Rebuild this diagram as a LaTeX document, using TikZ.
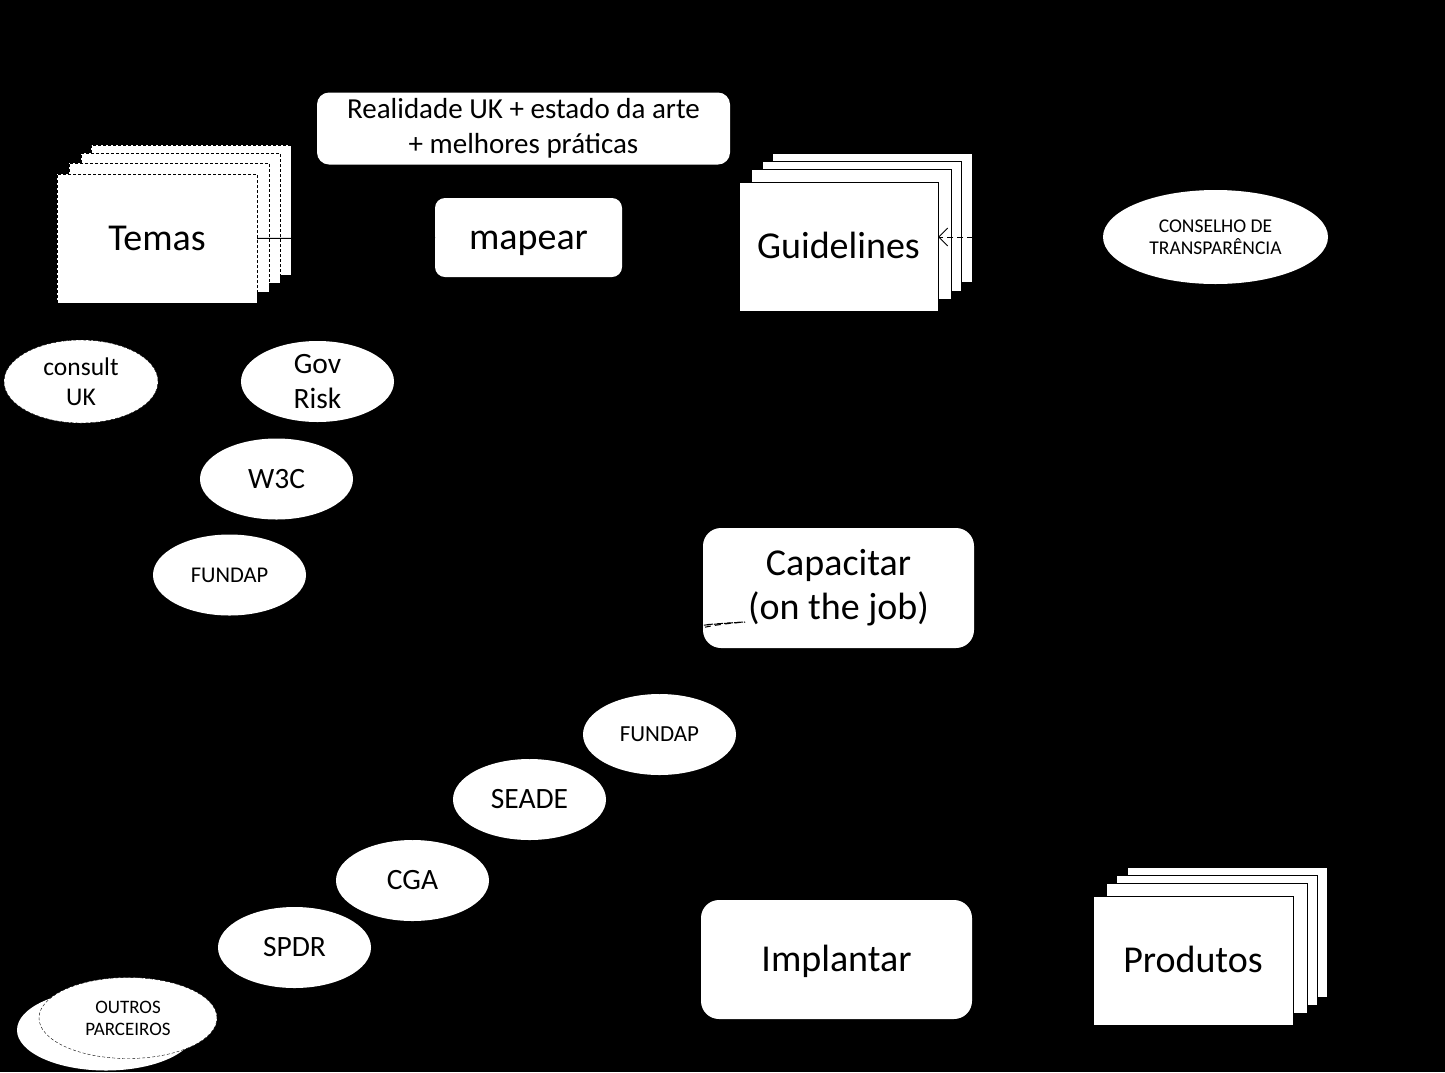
\documentclass[tikz,border=0pt]{standalone}
\usepackage{fontspec}
\setmainfont{Carlito}
\usetikzlibrary{arrows.meta,shapes.geometric}
\begin{document}
\begin{tikzpicture}[x=1pt,y=-1pt,
  sheet/.style={draw=black,fill=white,line width=0.8pt,inner sep=0pt,outer sep=0pt},
  dsheet/.style={sheet,dash pattern=on 3pt off 2pt},
  rbox/.style={fill=white,inner sep=0pt,outer sep=0pt},
  oval/.style={ellipse,fill=white,inner sep=0pt,outer sep=0pt,minimum width=153pt,minimum height=81pt,align=center},
  bigone/.style={font=\fontsize{38}{46}\selectfont,text height=30pt,text depth=6pt},
  bigtwo/.style={font=\fontsize{38}{44}\selectfont,align=center},
  medtxt/.style={font=\fontsize{29.5}{35}\selectfont},
  conn/.style={draw=black,line width=1pt},
  dconn/.style={conn,dash pattern=on 6pt off 4pt}]
\fill[black] (0,0) rectangle (1445,1072);
\useasboundingbox (0,0) rectangle (1445,1072);

% Temas stack
\node[dsheet,minimum width=200pt,minimum height=130pt] (t4) at (191,210) {};
\node[dsheet,minimum width=199pt,minimum height=130pt] (t3) at (180.5,218) {};
\node[dsheet,minimum width=200pt,minimum height=129pt] (t2) at (169,227.5) {};
\node[dsheet,minimum width=200pt,minimum height=129pt,bigone] (temas) at (157,238.5) {Temas};

% Realidade + mapear
\node[rbox,rounded corners=12pt,minimum width=413pt,minimum height=72pt,align=center,font=\fontsize{29}{35}\selectfont] (real) at (523.5,128.5) {Realidade UK + estado da arte\\+ melhores pr\'aticas};
\node[rbox,rounded corners=10pt,minimum width=187pt,minimum height=79pt,bigone] (mapear) at (528.5,237.5) {mapear};

% Guidelines stack
\node[sheet,minimum width=200pt,minimum height=129pt] (g4) at (872,217.5) {};
\node[sheet,minimum width=199pt,minimum height=130pt] (g3) at (861.5,226) {};
\node[sheet,minimum width=200pt,minimum height=130pt] (g2) at (851,234) {};
\node[sheet,minimum width=199pt,minimum height=129pt,bigone] (guide) at (838.5,246.5) {Guidelines};

% Conselho
\node[oval,minimum width=225pt,minimum height=94pt,font=\fontsize{19.5}{22}\selectfont] (cons) at (1215.5,237) {CONSELHO DE\\TRANSPAR\^ENCIA};

% upper partners
\node[oval,minimum width=154pt,minimum height=83pt,draw=black,dash pattern=on 3pt off 2pt,font=\fontsize{25.5}{30}\selectfont] (consult) at (81,381.5) {consult\\UK};
\node[oval,medtxt] (gov) at (317.5,381.5) {Gov\\Risk};
\node[oval,medtxt] (w3c) at (276.5,479) {W3C};
\node[oval,font=\fontsize{22.5}{27}\selectfont] (fundapA) at (229.5,575) {FUNDAP};

% Capacitar
\node[rbox,rounded corners=18pt,minimum width=271pt,minimum height=120pt,bigtwo] (cap) at (838.5,588) {Capacitar\\(on the job)};

% lower partners
\node[oval,font=\fontsize{23}{27}\selectfont] (fundapB) at (659.5,734.5) {FUNDAP};
\node[oval,medtxt] (seade) at (529.5,799.5) {SEADE};
\node[oval,medtxt] (cga) at (412.5,880.5) {CGA};
\node[oval,medtxt] (spdr) at (294.5,947.5) {SPDR};
\node[oval,minimum width=178pt,minimum height=81pt] (outrosb) at (106,1030) {};
\node[oval,minimum width=178pt,minimum height=81pt,draw=black,dash pattern=on 3pt off 2pt,font=\fontsize{19}{22}\selectfont] (outros) at (128,1018) {OUTROS\\PARCEIROS};

% Implantar
\node[rbox,rounded corners=18pt,minimum width=271pt,minimum height=119pt,bigone] (impl) at (836.5,959.5) {Implantar};

% Produtos stack
\node[sheet,minimum width=200pt,minimum height=130pt] (p4) at (1227,932) {};
\node[sheet,minimum width=201pt,minimum height=130pt] (p3) at (1216.5,940) {};
\node[sheet,minimum width=201pt,minimum height=130pt] (p2) at (1206.5,948) {};
\node[sheet,minimum width=200pt,minimum height=129pt,bigone] (prod) at (1193,960.5) {Produtos};

% connectors
\draw[conn] (temas.east) -- (mapear.west);
\draw[dconn,-{Straight Barb[length=9pt,width=18pt,line width=1pt]}] (cons.west) -- (cons.west -| guide.east);
\coordinate (capin) at (745,622);
\draw[dconn] (fundapB.north) .. controls +(0,-60) and +(-60,5) .. (capin);
\draw[dconn] (seade.north) .. controls +(0,-110) and +(-140,9) .. (capin);
\draw[dconn] (cga.north) .. controls +(0,-150) and +(-220,12) .. (capin);
\end{tikzpicture}
\end{document}
